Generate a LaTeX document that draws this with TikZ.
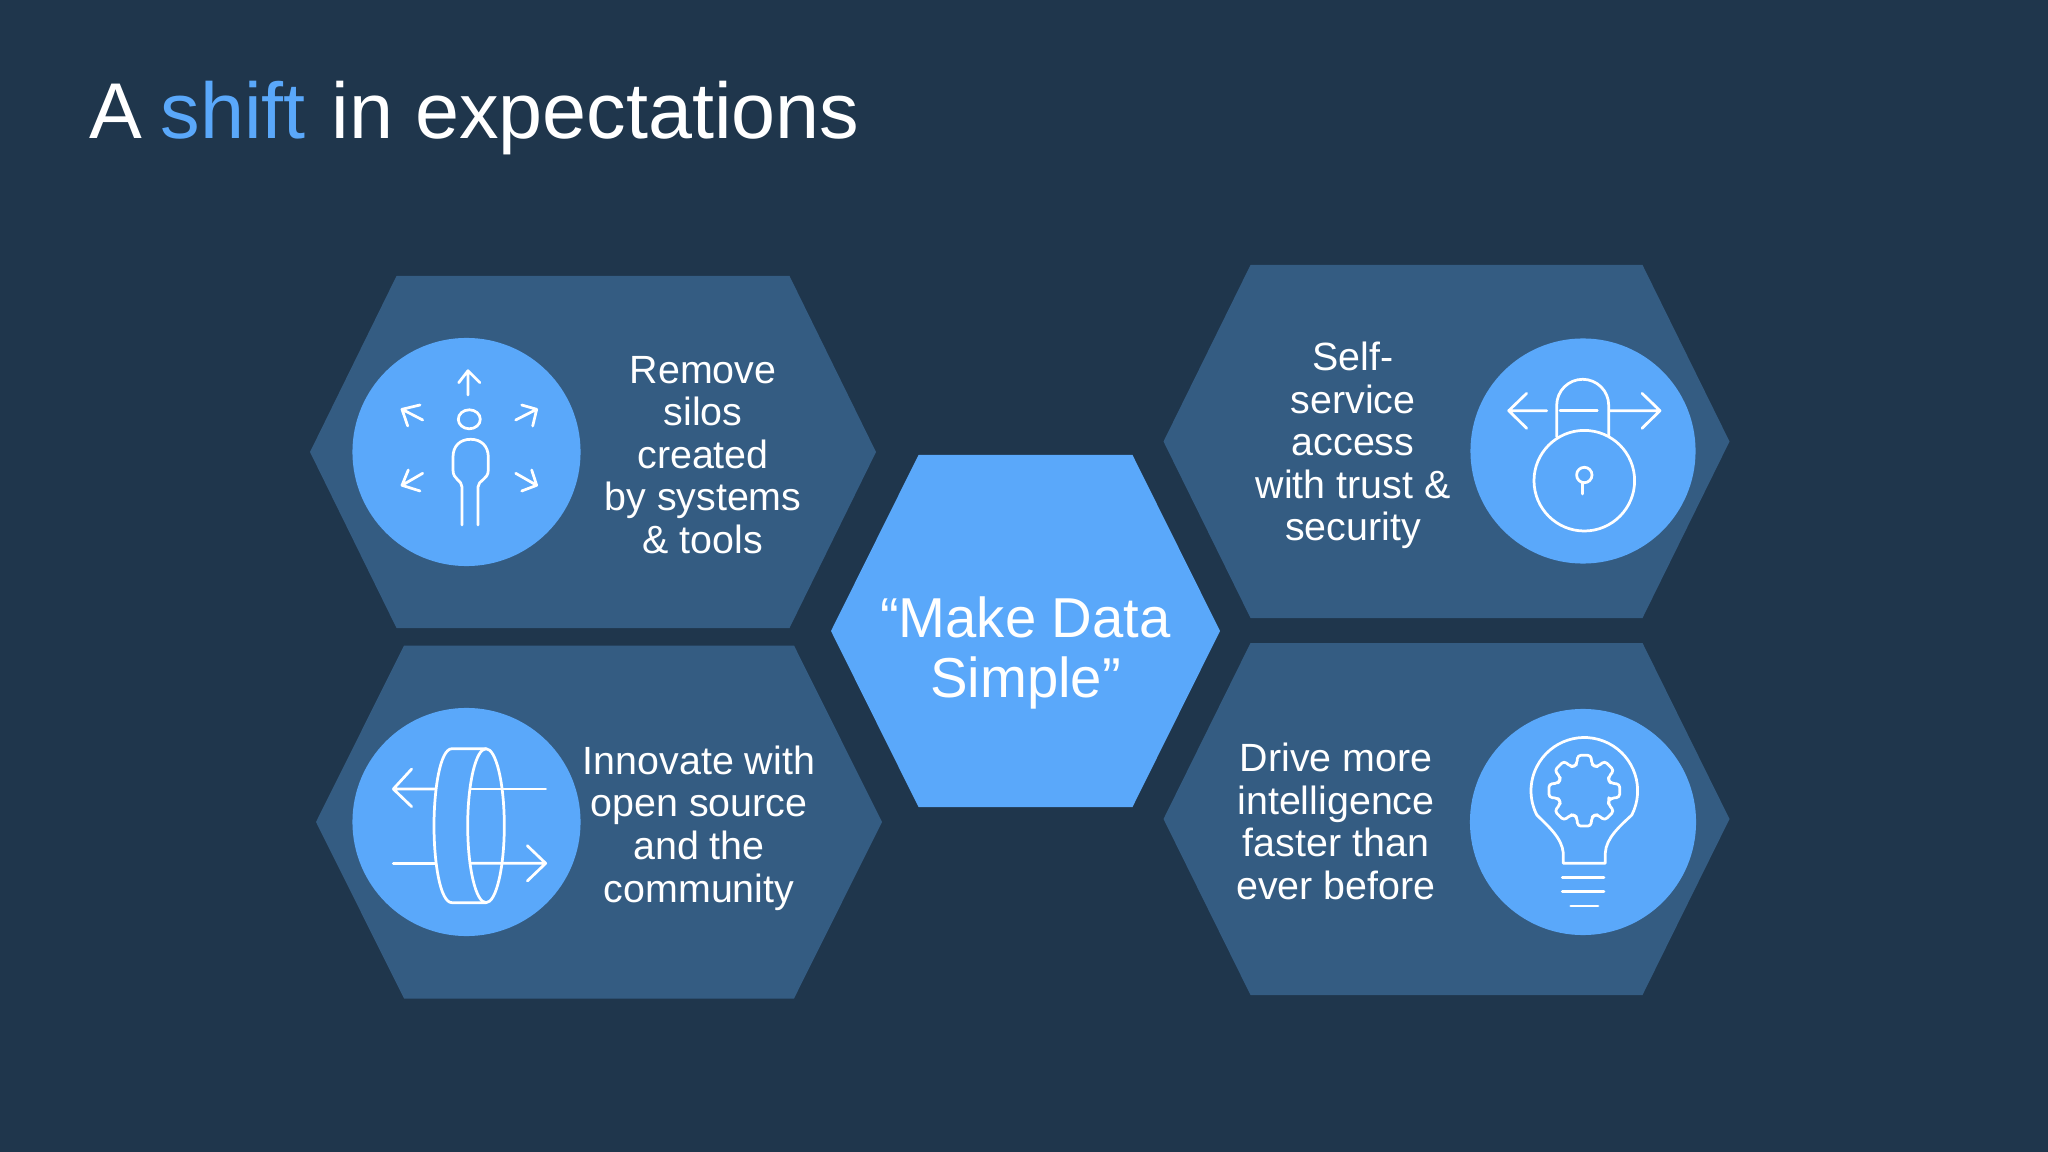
\documentclass[tikz,border=0pt]{standalone}
\usepackage{fontspec}
\setmainfont{Liberation Sans}
\usetikzlibrary{calc}
\definecolor{slidebg}{HTML}{1F364C}
\definecolor{hexdark}{HTML}{345C82}
\definecolor{skyblue}{HTML}{5AA8FA}
\def\hexa[#1](#2,#3)(#4:#5:#6){\fill[#1,shift={(#2,#3)}] (-#4,-#6) -- (#4,-#6) -- (#5,0) -- (#4,#6) -- (-#4,#6) -- (-#5,0) -- cycle;}
\tikzset{
	disc/.style={circle, fill=skyblue, inner sep=0pt},
	icon/.style={draw=white, line width=0.78pt, line cap=round, line join=round},
	label/.style={text=white, align=center, font=\fontsize{11.2pt}{12.1pt}\selectfont}
}
\begin{document}
\begin{tikzpicture}[x=0.01cm, y=-0.01cm]
	%%%%% START %%%%%
	\useasboundingbox (0, 0) rectangle (2048, 1152);
	\fill[slidebg] (0, 0) rectangle (2048, 1152);

	\node[anchor=base west, inner sep=0pt, text=white, font=\fontsize{22.5pt}{27pt}\selectfont] (title) at (89, 138.5) {A\hspace{-1.1pt} \textcolor{skyblue}{shift}\hspace{1.1pt} in expectations};

	\hexa[hexdark](593, 452)(196.5:283:176)
	\hexa[hexdark](599, 822)(195:283:176.5)
	\hexa[hexdark](1446.5, 441.5)(196:283:176.5)
	\hexa[hexdark](1446.5, 819)(196:283:176)
	\hexa[skyblue](1025.5, 631)(107:194.5:176)

	\node[disc, minimum size=2.28cm] (silosdisc) at (466.5, 452) {};
	\node[disc, minimum size=2.28cm] (sourcedisc) at (466.5, 822) {};
	\node[disc, minimum size=2.25cm] (lockdisc) at (1583, 451) {};
	\node[disc, minimum size=2.26cm] (bulbdisc) at (1583, 822) {};

	\node[label] (silos) at (703, 455) {Remove\\silos\\created\\by systems\\\& tools};
	\node[label] (source) at (699, 828) {Innovate with\\open source\\and the\\community};
	\node[label] (access) at (1353, 445.5) {Self-\\service\\access\\with trust \&\\security};
	\node[label] (intelligence) at (1336, 821.5) {Drive more\\intelligence\\faster than\\ever before};
	\node[text=white, align=center, font=\fontsize{16pt}{17.2pt}\selectfont] (simple) at (1025.5, 653) {“Make Data\\Simple”};

	% person with arrows
	\draw[icon] (469.3, 419.3) ellipse [x radius=11, y radius=9.5];
	\draw[icon] (462, 525) -- (462, 487) .. controls (462, 480) and (453, 480) .. (453, 470) -- (453, 457) .. controls (453, 446) and (460, 439.3) .. (470.7, 439.3) .. controls (481, 439.3) and (488.3, 446) .. (488.3, 457) -- (488.3, 470) .. controls (488.3, 480) and (478, 480) .. (478, 487) -- (478, 525);
	\draw[icon] (468, 395) -- (468, 370.7) (458.7, 382.7) -- (468, 370.7) -- (480, 382.7);
	\draw[icon] (422.7, 420) -- (402, 409.3) (420, 405) -- (402, 409.3) -- (407.7, 426);
	\draw[icon] (515.7, 420) -- (536.7, 409.3) (521.7, 405) -- (536.7, 409.3) -- (532.7, 426);
	\draw[icon] (422.7, 473.3) -- (402, 485.3) (420, 491) -- (402, 485.3) -- (408.3, 470);
	\draw[icon] (515.7, 473.3) -- (536.7, 485.3) (521.7, 491) -- (536.7, 485.3) -- (531.7, 470);

	% ring with arrows
	\draw[icon] (486, 825.7) ellipse [x radius=18.3, y radius=77];
	\draw[icon] (486, 748.7) -- (452, 748.7) .. controls (440, 748.7) and (434, 790) .. (434, 825.7) .. controls (434, 862) and (440, 902.7) .. (452, 902.7) -- (486, 902.7);
	\draw[icon] (435, 789) -- (393.3, 789) (411.7, 769) -- (393.3, 789) -- (411.7, 806.7);
	\draw[icon] (470.7, 789) -- (545.7, 789);
	\draw[icon] (393.3, 863.3) -- (435, 863.3);
	\draw[icon] (470, 863.3) -- (545.7, 863.3) (527.3, 845.7) -- (545.7, 863.3) -- (527.3, 881);

	% lock with arrows
	\draw[icon] (1584.3, 480.7) circle (50.3);
	\draw[icon] (1556.7, 436.7) -- (1556.7, 405.3) arc (180:360:26) -- (1608.7, 436.7);
	\draw[icon] (1584.3, 475) circle (7.7);
	\draw[icon] (1582.7, 482.7) -- (1582.7, 494);
	\draw[icon] (1546.7, 410.7) -- (1508.7, 410.7) (1526.7, 393.3) -- (1508.7, 410.7) -- (1526.7, 428.3);
	\draw[icon] (1560, 410.7) -- (1597.3, 410.7);
	\draw[icon] (1609.3, 410.7) -- (1660, 410.7) (1642, 393.3) -- (1660, 410.7) -- (1642, 428.3);

	% bulb with gear
	\draw[icon] (1563.3, 863.3) -- (1605.3, 863.3) -- (1605.3, 853) .. controls (1606, 838) and (1620, 826) .. (1631.8, 815) arc (27:-207:53.3) .. controls (1548, 826) and (1562, 838) .. (1563.3, 853) -- cycle;
	\draw[icon, rounded corners=0.9pt, shift={(1584.3, 790.7)}] (22.5:26.5) \foreach \a in {45,90,...,360} { -- (\a-16:27.5) -- (\a-10.5:36) -- (\a+10.5:36) -- (\a+16:27.5) -- (\a+22.5:26.5) } -- cycle;
	\draw[icon] (1562.3, 877.3) -- (1604, 877.3);
	\draw[icon] (1562.3, 891.7) -- (1604, 891.7);
	\draw[icon] (1570.7, 906) -- (1598, 906);
	%%%%% END %%%%%
\end{tikzpicture}
\end{document}
